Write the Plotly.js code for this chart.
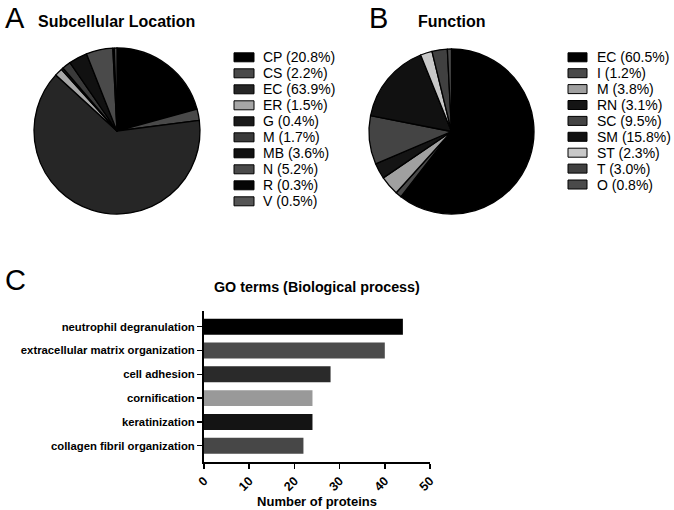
<!DOCTYPE html>
<html>
<head>
<meta charset="utf-8">
<script src="https://cdn.plot.ly/plotly-3.0.1.min.js"></script>
<style>html,body{margin:0;padding:0;background:#fff;}#chart{width:674px;height:510px;}</style>
</head>
<body>
<div id="chart"></div>
<script>
// Panel A: Subcellular Location
const locLabels = ["CP", "CS", "EC", "ER", "G", "M", "MB", "N", "R", "V"];
const locValues = [20.8, 2.2, 63.9, 1.5, 0.4, 1.7, 3.6, 5.2, 0.3, 0.5];
const locColors = ["#000000", "#494949", "#262626", "#a6a6a6", "#1a1a1a", "#3a3a3a", "#111111", "#4a4a4a", "#050505", "#555555"];

// Panel B: Function
const funLabels = ["EC", "I", "M", "RN", "SC", "SM", "ST", "T", "O"];
const funValues = [60.5, 1.2, 3.8, 3.1, 9.5, 15.8, 2.3, 3.0, 0.8];
const funColors = ["#000000", "#4a4a4a", "#a0a0a0", "#141414", "#444444", "#111111", "#c8c8c8", "#404040", "#4a4a4a"];

// Panel C: GO terms
const goTerms = ["neutrophil degranulation", "extracellular matrix organization", "cell adhesion", "cornification", "keratinization", "collagen fibril organization"];
const goCounts = [44, 40, 28, 24, 24, 22];
const goColors = ["#000000", "#4b4b4b", "#2a2a2a", "#999999", "#141414", "#474747"];
const xTicks = [0, 10, 20, 30, 40, 50];

const W = 674, H = 510;
const FONT = "Liberation Sans, Arial, Helvetica, sans-serif";
const px = x => x / W;
const py = y => 1 - y / H;

const traces = [
  {
    type: "pie", labels: locLabels, values: locValues, sort: false, direction: "clockwise", rotation: 0,
    marker: {colors: locColors, line: {color: "#000", width: 1.3}},
    textinfo: "none", hoverinfo: "label+value", showlegend: false,
    domain: {x: [px(34), px(200)], y: [py(214), py(48)]}
  },
  {
    type: "pie", labels: funLabels, values: funValues, sort: false, direction: "clockwise", rotation: 0,
    marker: {colors: funColors, line: {color: "#000", width: 1.3}},
    textinfo: "none", hoverinfo: "label+value", showlegend: false,
    domain: {x: [px(369), px(534)], y: [py(214), py(49)]}
  },
  {
    type: "bar", orientation: "h", x: goCounts, y: goTerms,
    marker: {color: goColors, line: {width: 0}}, width: 0.67,
    xaxis: "x", yaxis: "y", showlegend: false
  }
];

const shapes = [];
const annotations = [];

function addLegend(labels, values, colors, sx0, sx1, tx, y0, step) {
  labels.forEach((lab, i) => {
    const yc = y0 + step * i;
    shapes.push({type: "rect", xref: "paper", yref: "paper",
      x0: px(sx0), x1: px(sx1), y0: py(yc + 4.5), y1: py(yc - 4.5),
      fillcolor: colors[i], line: {color: "#000", width: 1}});
    annotations.push({xref: "paper", yref: "paper", x: px(tx), y: py(yc), xanchor: "left", yanchor: "middle",
      text: lab + " (" + values[i].toFixed(1) + "%)", showarrow: false,
      font: {family: FONT, size: 14, color: "#000"}});
  });
}
addLegend(locLabels, locValues, locColors, 234, 254, 261, 57.3, 16.0);
addLegend(funLabels, funValues, funColors, 568, 587, 595, 57.3, 15.9);

function txt(text, x, y, size, bold, anchor) {
  annotations.push({xref: "paper", yref: "paper", x: px(x), y: py(y), xanchor: anchor || "left", yanchor: "middle",
    text: bold ? "<b>" + text + "</b>" : text, showarrow: false,
    font: {family: FONT, size: size, color: "#000"}});
}
txt("A", 3, 18, 29, false);
txt("B", 367, 18, 29, false);
txt("C", 3, 280, 29, false);
txt("Subcellular Location", 36, 22, 16, true);
txt("Function", 416, 22, 16, true);
txt("GO terms (Biological process)", 316.5, 287, 14.3, true, "center");

const layout = {
  width: W, height: H,
  margin: {l: 0, r: 0, t: 0, b: 0, pad: 0},
  paper_bgcolor: "#fff", plot_bgcolor: "#fff",
  font: {family: FONT, color: "#000"},
  showlegend: false,
  xaxis: {
    domain: [px(204), px(430)], range: [0, 50], tickvals: xTicks, ticktext: xTicks.map(String),
    showgrid: false, zeroline: false, showline: true, linecolor: "#000", linewidth: 2,
    ticks: "outside", ticklen: 5, tickwidth: 1.5, tickcolor: "#000", tickangle: -45,
    tickfont: {family: FONT, size: 12.5, color: "#000", weight: "bold"},
    title: {text: "<b>Number of proteins</b>", font: {family: FONT, size: 13, color: "#000"}, standoff: 4},
    anchor: "y", fixedrange: true
  },
  yaxis: {
    domain: [py(461.7), py(310.7)], type: "category", categoryorder: "array", categoryarray: goTerms,
    range: [5.672, -0.672], autorange: false,
    showgrid: false, zeroline: false, showline: true, linecolor: "#000", linewidth: 2,
    ticks: "outside", ticklen: 5, tickwidth: 1.5, tickcolor: "#000",
    tickfont: {family: FONT, size: 11.3, color: "#000", weight: "bold"},
    anchor: "x", fixedrange: true
  },
  shapes: shapes,
  annotations: annotations
};

Plotly.newPlot("chart", traces, layout, {staticPlot: true, displayModeBar: false});
</script>
</body>
</html>
